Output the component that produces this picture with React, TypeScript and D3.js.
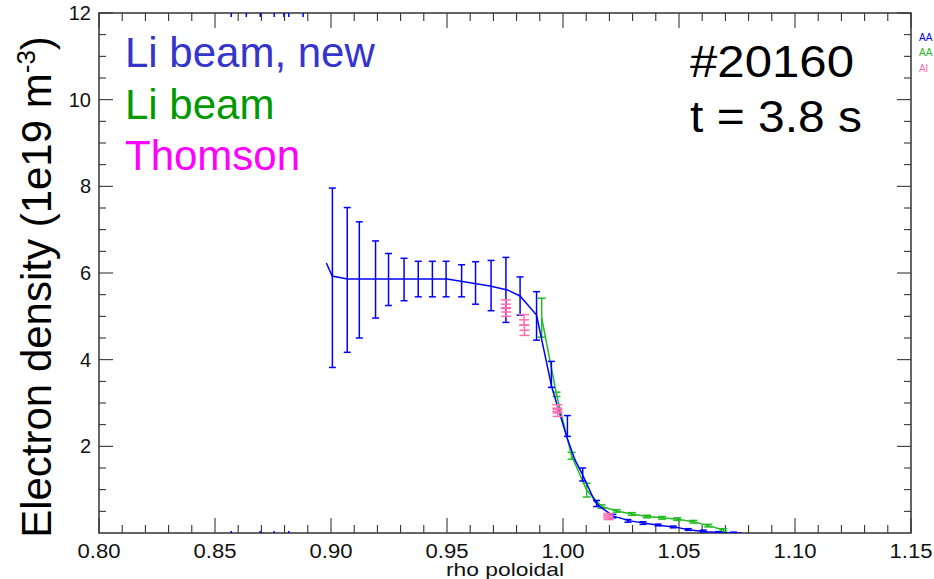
import * as d3 from 'd3';

// blue "Li beam, new": fitted profile
const fitRho = [0.898, 0.9005, 0.907, 0.95, 0.9685, 0.976, 0.9815, 0.9886, 0.9951, 1.0016, 1.0052, 1.0081, 1.0138, 1.0159, 1.0217, 1.0289, 1.0404, 1.049, 1.0547, 1.0619, 1.0691, 1.0772];
const fitNe = [6.23, 5.93, 5.86, 5.86, 5.7, 5.61, 5.47, 5.03, 3.38, 2.22, 1.68, 1.38, 0.72, 0.61, 0.39, 0.28, 0.185, 0.13, 0.07, 0.03, 0.007, 0];

// blue points with error bars
const newRho = [0.9006, 0.907, 0.9122, 0.9192, 0.9248, 0.9315, 0.9376, 0.9437, 0.9496, 0.9563, 0.9623, 0.969, 0.9754, 0.9815, 0.9886, 0.995, 1.0019, 1.0085, 1.0145, 1.0215, 1.028, 1.0345, 1.041, 1.0475, 1.054, 1.0605, 1.067, 1.0735];
const newNe = [5.89, 5.84, 5.84, 5.85, 5.85, 5.85, 5.86, 5.86, 5.86, 5.82, 5.77, 5.71, 5.61, 5.47, 5.01, 3.66, 2.47, 1.35, 0.68, 0.39, 0.28, 0.23, 0.185, 0.14, 0.08, 0.046, 0.012, 0];
const newErr = [2.07, 1.67, 1.34, 0.89, 0.6, 0.49, 0.41, 0.41, 0.41, 0.37, 0.49, 0.58, 0.75, 0.44, 0.56, 0.3, 0.24, 0.15, 0.07, 0.04, 0.03, 0.03, 0.02, 0.02, 0.02, 0.02, 0.02, 0.02];

// green "Li beam"
const oldRho = [0.9908, 0.9972, 1.0037, 1.0102, 1.0166, 1.0231, 1.0297, 1.0362, 1.0427, 1.0493, 1.0562, 1.0626, 1.0691];
const oldNe = [4.97, 3.2, 1.78, 0.99, 0.61, 0.51, 0.44, 0.38, 0.35, 0.32, 0.26, 0.17, 0.07];
const oldErr = [0.45, 0.05, 0.08, 0.16, 0.04, 0.03, 0.03, 0.03, 0.03, 0.03, 0.03, 0.03, 0.03];

// Thomson
const tsRho = [0.9753, 0.9755, 0.9832, 0.9834, 0.9975, 0.9977, 1.0195, 1.0197];
const tsNe = [5.28, 5.1, 4.92, 4.68, 2.88, 2.77, 0.4, 0.36];
const tsErr = [0.1, 0.1, 0.12, 0.12, 0.08, 0.08, 0.05, 0.05];

// blue points clipped at the frame
const clipTopRho = [0.857, 0.8635, 0.8695, 0.8755, 0.8797, 0.8818, 0.888];
const clipBottomRho = [0.857, 0.8695, 0.8755, 0.8818];

const xTickValues = [0.8, 0.85, 0.9, 0.95, 1.0, 1.05, 1.1, 1.15];
const yTickValues = [2, 4, 6, 8, 10, 12];

const labels = ['Li beam, new', 'Li beam', 'Thomson'];
const cornerLabels = ['AA', 'AA', 'Al'];
const shotLabels = ['#20160', 't = 3.8 s'];

const BLUE = '#0000ff';
const GREEN = '#22bb22';
const PINK = '#ff6fb0';
const FONT = 'Liberation Sans, Arial, Helvetica, sans-serif';

const W = 934;
const H = 579;
const left = 99, right = 911, top = 13, bottom = 533;

export default function App() {
  const x = d3.scaleLinear().domain([0.8, 1.15]).range([left, right]);
  const y = d3.scaleLinear().domain([0, 12]).range([bottom, top]);

  const fitLine = d3.line<number>().x((d) => x(fitRho[d])).y((d) => y(fitNe[d]));
  const oldLine = d3.line<number>().x((d) => x(oldRho[d])).y((d) => y(oldNe[d]));

  const xMajor = xTickValues;
  const xMinor = d3.range(0, 36).map((i) => 0.8 + i * 0.01).filter((v) => !xMajor.some((m) => Math.abs(m - v) < 1e-6));
  const yMinor = d3.range(1, 24).map((i) => i * 0.5).filter((v) => v % 2 !== 0);

  const errBars = (rho: number[], ne: number[], err: number[], color: string, cap: number, key: string) =>
    rho.map((r, i) => {
      const cx = x(r);
      const y0 = y(ne[i] - err[i]);
      const y1 = y(ne[i] + err[i]);
      return (
        <g key={key + i} stroke={color} strokeWidth={1.5}>
          <line x1={cx} x2={cx} y1={y0} y2={y1} />
          <line x1={cx - cap} x2={cx + cap} y1={y0} y2={y0} />
          <line x1={cx - cap} x2={cx + cap} y1={y1} y2={y1} />
        </g>
      );
    });

  return (
    <svg width={W} height={H} style={{ position: 'absolute', left: 0, top: 0, background: '#fff' }} fontFamily={FONT}>
      <defs>
        <clipPath id="plot">
          <rect x={left} y={top} width={right - left} height={bottom - top} />
        </clipPath>
      </defs>

      {/* ticks */}
      <g stroke="#222" strokeWidth={1}>
        {xMajor.map((v) => (
          <g key={'xm' + v}>
            <line x1={x(v)} x2={x(v)} y1={bottom} y2={bottom - 15} />
            <line x1={x(v)} x2={x(v)} y1={top} y2={top + 15} />
          </g>
        ))}
        {xMinor.map((v) => (
          <g key={'xn' + v}>
            <line x1={x(v)} x2={x(v)} y1={bottom} y2={bottom - 8} />
            <line x1={x(v)} x2={x(v)} y1={top} y2={top + 8} />
          </g>
        ))}
        {yTickValues.map((v) => (
          <g key={'ym' + v}>
            <line x1={left} x2={left + 14} y1={y(v)} y2={y(v)} />
            <line x1={right} x2={right - 14} y1={y(v)} y2={y(v)} />
          </g>
        ))}
        {yMinor.map((v) => (
          <g key={'yn' + v}>
            <line x1={left} x2={left + 7} y1={y(v)} y2={y(v)} />
            <line x1={right} x2={right - 7} y1={y(v)} y2={y(v)} />
          </g>
        ))}
      </g>
      <rect x={left} y={top} width={right - left} height={bottom - top} fill="none" stroke="#333" strokeWidth={1.5} />

      {/* tick labels */}
      <g fontSize={20} fill="#111">
        {xTickValues.map((v) => (
          <text key={'xl' + v} x={x(v)} y={558} textAnchor="middle" textLength={43} lengthAdjust="spacingAndGlyphs">{v.toFixed(2)}</text>
        ))}
        {yTickValues.map((v) => (
          <text key={'yl' + v} x={91} y={y(v) + 7} textAnchor="end">{v}</text>
        ))}
      </g>
      <text x={505} y={576} fontSize={19} textAnchor="middle" fill="#111" textLength={118} lengthAdjust="spacingAndGlyphs">rho poloidal</text>
      <text transform={`translate(51,${(top + bottom) / 2 + 14}) rotate(-90)`} fontSize={42} textAnchor="middle" fill="#000">
        Electron density (1e19 m<tspan dy={-16} fontSize={26}>-3</tspan><tspan dy={16}>)</tspan>
      </text>

      <g clipPath="url(#plot)" fill="none">
        <path d={oldLine(d3.range(oldRho.length)) ?? ''} stroke={GREEN} strokeWidth={1.5} />
        {errBars(oldRho, oldNe, oldErr, GREEN, 4, 'g')}
        <path d={fitLine(d3.range(fitRho.length)) ?? ''} stroke={BLUE} strokeWidth={1.5} />
        {errBars(newRho, newNe, newErr, BLUE, 3.5, 'b')}
        {errBars(tsRho, tsNe, tsErr, PINK, 5, 't')}
        {tsRho.map((r, i) => (
          <line key={'tc' + i} x1={x(r) - 5} x2={x(r) + 5} y1={y(tsNe[i])} y2={y(tsNe[i])} stroke={PINK} strokeWidth={1.5} />
        ))}
      </g>

      {/* blue marks clipped at the frame */}
      <g stroke={BLUE} strokeWidth={1.5}>
        {clipTopRho.map((r, i) => (
          <line key={'ct' + i} x1={x(r)} x2={x(r)} y1={top} y2={top + 4} />
        ))}
        {clipBottomRho.map((r, i) => (
          <line key={'cb' + i} x1={x(r)} x2={x(r)} y1={bottom - 2} y2={bottom} />
        ))}
      </g>

      {/* annotations */}
      <g fontSize={42}>
        <text x={125} y={67} fill="#3535cc">{labels[0]}</text>
        <text x={125} y={119} fill="#009900">{labels[1]}</text>
        <text x={125} y={170} fill="#ff00ff">{labels[2]}</text>
      </g>
      <g fontSize={44} fill="#000">
        <text x={690} y={77} textLength={164} lengthAdjust="spacingAndGlyphs">{shotLabels[0]}</text>
        <text x={690} y={132} textLength={172} lengthAdjust="spacingAndGlyphs">{shotLabels[1]}</text>
      </g>
      <g fontSize={10}>
        <text x={919} y={41} fill={BLUE}>{cornerLabels[0]}</text>
        <text x={919} y={56} fill={GREEN}>{cornerLabels[1]}</text>
        <text x={919} y={72} fill={PINK}>{cornerLabels[2]}</text>
      </g>
    </svg>
  );
}
